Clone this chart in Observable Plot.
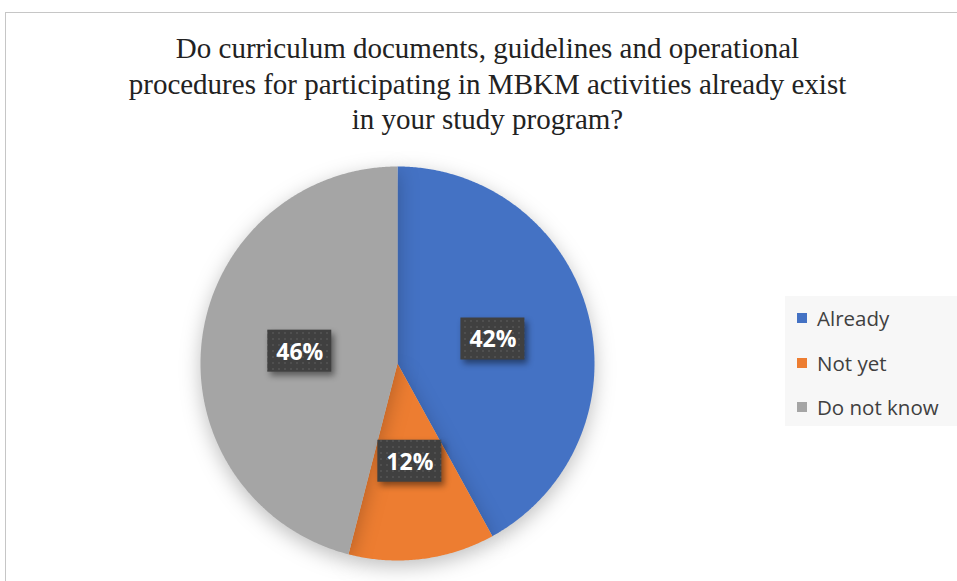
<!DOCTYPE html>
<html><head><meta charset="utf-8">
<script src="https://cdn.jsdelivr.net/npm/d3@7"></script>
<script src="https://cdn.jsdelivr.net/npm/@observablehq/plot@0.6"></script>
<style>
html,body{margin:0;padding:0;background:#fff;overflow:hidden;width:957px;height:581px;}
#wrap{position:relative;width:957px;height:581px;}
#frame{position:absolute;left:5px;top:12px;width:1200px;height:900px;border:1px solid #c6c6c6;box-sizing:border-box;}
#title{position:absolute;left:0;top:31px;width:975px;text-align:center;font-family:"Liberation Serif","Times New Roman",serif;font-size:29px;line-height:35.5px;color:#222;}
#chart{position:absolute;left:0;top:0;}
#legend{position:absolute;left:785px;top:296px;width:172px;height:130px;background:#f7f7f7;font-family:"Open Sans","Noto Sans",sans-serif;font-size:20.5px;color:#404040;}
.li{position:absolute;left:12px;height:26px;display:flex;align-items:center;}
.sw{width:10px;height:10px;margin-right:10px;}
</style></head>
<body><div id="wrap"><div id="frame"></div><div id="chart"></div>
<div id="title">Do curriculum documents, guidelines and operational<br>procedures for participating in MBKM activities already exist<br>in your study program?</div>
<div id="legend"></div></div>
<script>
const categories = ["Already", "Not yet", "Do not know"];
const values = [42, 12, 46];
const colors = ["#4472C4", "#ED7D31", "#A5A5A5"];
const labels = ["42%", "12%", "46%"];

const W = 957, H = 581, R = 197, CX = 397, CY = 363;
const data = categories.map((c, i) => ({category: c, value: values[i], color: colors[i], label: labels[i]}));
const arcs = d3.pie().value(d => d.value).sort(null)(data);

const wedgePts = [];
arcs.forEach(a => {
  wedgePts.push({category: a.data.category, x: 0, y: 0});
  const n = Math.max(4, Math.ceil((a.endAngle - a.startAngle) * 120));
  for (let k = 0; k <= n; k++) {
    const t = a.startAngle + (a.endAngle - a.startAngle) * k / n;
    wedgePts.push({category: a.data.category, x: Math.sin(t), y: Math.cos(t)});
  }
});
const labelPts = arcs.map(a => {
  const m = (a.startAngle + a.endAngle) / 2;
  return {label: a.data.label, x: 0.5 * Math.sin(m), y: 0.5 * Math.cos(m)};
});

const boxMark = (index, scales) => {
  const g = d3.create("svg:g");
  for (const d of labelPts) {
    const px = scales.x(d.x), py = scales.y(d.y);
    g.append("rect").attr("x", px - 32).attr("y", py - 21).attr("width", 64).attr("height", 42)
      .attr("fill", "url(#dots)").attr("style", "filter: drop-shadow(3px 4px 3px rgba(0,0,0,0.45))");
  }
  return g.node();
};

const plot = Plot.plot({
  width: W, height: H, margin: 0,
  x: {type: "linear", domain: [-CX / R, (W - CX) / R], range: [0, W], axis: null},
  y: {type: "linear", domain: [CY / R, -(H - CY) / R], range: [0, H], axis: null},
  color: {domain: categories, range: colors},
  style: {background: "transparent", overflow: "visible"},
  marks: [
    Plot.line(wedgePts, {x: "x", y: "y", z: "category", fill: "category", stroke: "none", curve: "linear-closed"}),
    boxMark,
    Plot.text(labelPts, {x: "x", y: "y", text: "label", fill: "white", fontSize: 23, fontWeight: "bold",
      fontFamily: "Open Sans, Noto Sans, sans-serif", dy: 1})
  ]
});
const svg = d3.select(plot);
svg.insert("defs", ":first-child").html(
  '<pattern id="dots" width="6" height="6" patternUnits="userSpaceOnUse"><rect width="6" height="6" fill="#404040"/><rect x="2" y="2" width="2" height="2" fill="#4f4f4f"/></pattern>');
svg.selectAll("path").filter(function(){return this.getAttribute("fill") && this.getAttribute("fill").startsWith("#")}).attr("style","filter: drop-shadow(0px 6px 10px rgba(0,0,0,0.25))");
document.getElementById("chart").appendChild(plot);

const leg = document.getElementById("legend");
categories.forEach((c, i) => {
  const d = document.createElement("div");
  d.className = "li"; d.style.top = (9 + i * 44.5) + "px";
  d.innerHTML = `<div class="sw" style="background:${colors[i]}"></div><span>${c}</span>`;
  leg.appendChild(d);
});
</script></body></html>
